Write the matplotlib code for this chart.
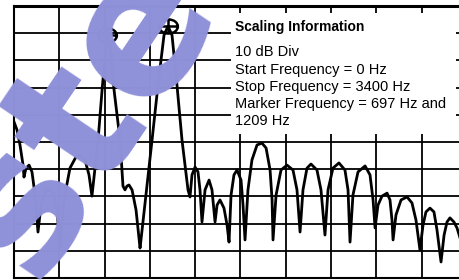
import numpy as np
import matplotlib
matplotlib.use("Agg")
import matplotlib.pyplot as plt
from matplotlib.path import Path
from matplotlib.patches import Rectangle

# trace (Hz, dB)
freq_hz = [0, 23, 45, 68, 75, 90, 113, 135, 158, 180,
           203, 233, 263, 293, 323, 345,
           375, 420, 465, 495, 533, 563, 585,
           631, 661, 691, 697, 721, 751, 796, 818,
           833, 848, 863, 886, 916, 946,
           953, 1036, 1081, 1126, 1156, 1186, 1223, 1261, 1306, 1321,
           1336, 1359, 1381, 1396, 1411,
           1434, 1464, 1486, 1509,
           1524, 1546, 1576, 1599, 1614,
           1629, 1651, 1674, 1704, 1719, 1734,
           1756, 1786, 1824, 1861, 1892, 1922, 1937, 1944,
           1967, 2004, 2049, 2094, 2124, 2147,
           2169, 2199, 2229, 2274, 2304, 2334,
           2357, 2394, 2439, 2484, 2507, 2522,
           2544, 2582, 2635, 2672, 2695, 2710,
           2732, 2762, 2800, 2822, 2837, 2845,
           2867, 2905, 2950, 2987, 3017, 3047,
           3070, 3092, 3122, 3152, 3175, 3205,
           3228, 3250, 3272, 3302, 3325, 3348]
level_db = [-42.6, -45.6, -51.1, -58.5, -62.9, -59.6, -58.5, -61.0, -69.5, -83.1,
            -73.2, -68.4, -67.3, -68.4, -75.0, -88.6,
            -71.3, -59.6, -55.5, -54.8, -56.6, -62.1, -69.9,
            -49.3, -30.9, -14.3, -10.7, -14.3, -30.9, -49.3, -66.2,
            -67.6, -66.2, -65.8, -67.6, -75.0, -89.0,
            -86.0, -49.3, -29.0, -10.7, -7.4, -10.7, -29.0, -49.3, -67.6, -70.2,
            -62.1, -59.2, -61.0, -67.6, -79.4,
            -67.6, -64.0, -67.6, -79.4,
            -73.2, -71.3, -74.3, -80.5, -86.8,
            -69.5, -62.1, -60.3, -64.0, -73.2, -86.0,
            -67.6, -56.6, -51.1, -50.4, -52.2, -60.3, -71.3, -86.0,
            -69.5, -60.3, -58.5, -60.3, -67.6, -83.1,
            -67.6, -59.6, -58.1, -60.3, -67.6, -84.2,
            -67.6, -59.6, -57.7, -60.3, -67.6, -86.8,
            -69.5, -61.0, -58.8, -62.1, -71.3, -81.6,
            -73.2, -69.9, -68.8, -71.3, -78.7, -86.0,
            -76.8, -71.3, -70.2, -72.4, -78.7, -89.7,
            -80.5, -75.7, -74.3, -75.7, -82.4, -94.1,
            -84.2, -79.4, -77.9, -79.4, -81.6, -85.3]

marker_hz = [697, 1156]
marker_db = [-10.7, -7.4]

info_title = "Scaling Information"
info_lines = ["10 dB Div",
              "Start Frequency = 0 Hz",
              "Stop Frequency = 3400 Hz",
              "Marker Frequency = 697 Hz and",
              "1209 Hz"]

plt.rcParams['font.family'] = ['Liberation Sans', 'DejaVu Sans']

fig = plt.figure(figsize=(4.6, 2.8), dpi=100)
# axes runs a bit past the right edge, like the scan
ax = fig.add_axes([14/460, 2/280, 453/460, 272/280])
ax.set_xlim(0, 3400)
ax.set_ylim(-100, 0)
ax.set_xticks(np.arange(0, 3401, 340))
ax.set_yticks(np.arange(-100, 1, 10))
ax.tick_params(length=0, labelbottom=False, labelleft=False)
ax.grid(True, color='black', lw=1.3)
for s in ax.spines.values():
    s.set_linewidth(1.5)
ax.spines['top'].set_linewidth(2.2)

# watermark
fig.text(82/460, 1 - 114/280, "ste", fontsize=138, fontweight='bold', rotation=56,
         color=(0.56, 0.57, 0.85), ha='center', va='center', zorder=0,
         family='DejaVu Sans')
ax.set_facecolor('none')

ax.plot(freq_hz, level_db, color='black', lw=2.0, solid_joinstyle='round', zorder=3)

# circle-with-cross marker
circ = Path.unit_circle()
verts = list(circ.vertices * [1.0, 0.75]) + [(-1, 0), (1, 0), (0, -0.75), (0, 0.75)]
codes = list(circ.codes) + [Path.MOVETO, Path.LINETO, Path.MOVETO, Path.LINETO]
mk = Path(verts, codes)
ax.plot(marker_hz, marker_db, ls='none', marker=mk, ms=13.5, mfc='none',
        mec='black', mew=1.8, zorder=4)

fig.patches.append(Rectangle((231/460, 1 - 134/280), 225/460, 121/280,
                             transform=fig.transFigure, facecolor='white',
                             edgecolor='none', zorder=5))
fig.text(235/460, 1 - 27/280, info_title, fontsize=10, fontweight='bold',
         va='center', zorder=6)
ys = [52, 70, 87, 104, 121]
for t, y in zip(info_lines, ys):
    fig.text(235/460, 1 - y/280, t, fontsize=10.5, va='center', zorder=6)

fig.savefig("out.png", dpi=100)
